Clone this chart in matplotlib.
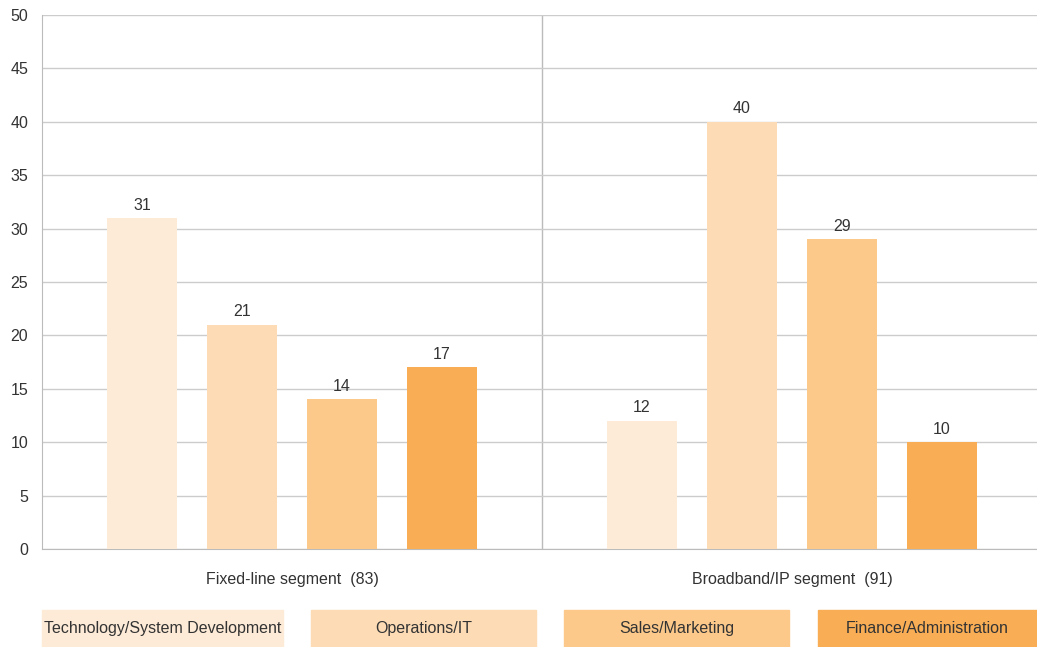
import matplotlib
matplotlib.use('Agg')
import matplotlib.pyplot as plt
from matplotlib.patches import Rectangle

plt.rcParams['font.family'] = ['Liberation Sans', 'DejaVu Sans']

# ── Data ─────────────────────────────────────────────
segments = ["Fixed-line segment  (83)", "Broadband/IP segment  (91)"]
categories = ["Technology/System Development", "Operations/IT",
              "Sales/Marketing", "Finance/Administration"]
fixed_line = [31, 21, 14, 17]
broadband = [12, 40, 29, 10]
colors = ['#FDEBD7', '#FCDBB5', '#FCC98B', '#F9AE56']

W, H = 1037, 647
fig = plt.figure(figsize=(W / 100, H / 100), dpi=100)
ax = fig.add_axes([42 / W, (H - 549) / H, 1000 / W, 534 / H])

offsets = [-0.3, -0.1, 0.1, 0.3]
for gi, vals in enumerate([fixed_line, broadband]):
    for ci, v in enumerate(vals):
        x = gi + 0.5 + offsets[ci]
        ax.bar(x, v, width=0.14, color=colors[ci], zorder=3)
        ax.text(x, v + 0.5, str(v), ha='center', va='bottom',
                fontsize=11.5, color='#333333')

ax.set_xlim(0, 2)
ax.set_ylim(0, 50)
ax.set_yticks(range(0, 51, 5))
ax.yaxis.grid(True, color='#cccccc', linewidth=1, zorder=0)
ax.axvline(1, color='#bbbbbb', linewidth=1, zorder=1)
ax.set_xticks([])
for s in ['top', 'right']:
    ax.spines[s].set_visible(False)
for s in ['left', 'bottom']:
    ax.spines[s].set_color('#bbbbbb')
ax.tick_params(axis='y', length=0, labelsize=11.5, labelcolor='#333333', pad=10)

# segment labels
for gi, seg in enumerate(segments):
    ax.text(gi + 0.5, -2.9, seg, ha='center', va='center',
            fontsize=11.5, color='#333333')

# legend boxes
boxes = [(42, 283), (311, 536), (564, 789), (818, 1037)]
for (x0, x1), lab, c in zip(boxes, categories, colors):
    fig.patches.append(Rectangle((x0 / W, 0), (x1 - x0) / W, 37 / H,
                                 transform=fig.transFigure, color=c))
    fig.text((x0 + x1) / 2 / W, 18.5 / H, lab, ha='center', va='center',
             fontsize=11.5, color='#333333')

fig.savefig('out.png', dpi=100)
